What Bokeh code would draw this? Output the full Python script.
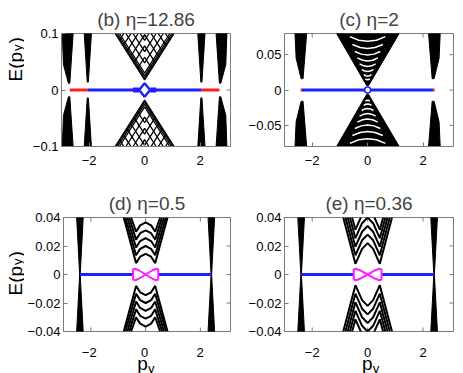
import math
from bokeh.plotting import figure
from bokeh.layouts import column, row
from bokeh.models import FixedTicker, Range1d
from bokeh.embed import file_html
from bokeh.resources import INLINE
from bokeh.core.properties import value

FONT = "Liberation Sans"
AXC = "#7a7a7a"
BLUE = "#1f1fff"
RED = "#ff1f1f"
MAG = "#ff1fff"

X_LIM = (-3.0, 3.1)
X_TICKS = [-2, 0, 2]
X_TICK_LABELS = ["\u22122", "0", "2"]

# ---------------- panel (b) ----------------
B_TITLE = "(b) \u03b7=12.86"
B_YLIM = (-0.1, 0.1)
B_YTICKS = [-0.1, 0, 0.1]
B_YTICK_LABELS = ["\u22120.1", "0", "0.1"]
B_POCKET_X = [[-2.97, -2.58, -2.70, -2.75, -2.93],
              [-2.18, -1.92, -2.03, -2.07],
              [1.92, 2.18, 2.07, 2.03],
              [2.58, 2.97, 2.93, 2.75, 2.70]]
B_POCKET_Y = [[0.1, 0.1, 0.012, 0.012, 0.045],
              [0.1, 0.1, 0.014, 0.014],
              [0.1, 0.1, 0.014, 0.014],
              [0.1, 0.1, 0.045, 0.012, 0.012]]
B_V_APEX = [0.018, 0.021, 0.025, 0.030, 0.048, 0.068, 0.088]
B_V_END = [1.065, 1.026, 0.974, 0.909, 0.675, 0.416, 0.156]
B_L_APEX = [0.058, 0.078, 0.098, 0.118, 0.138, 0.158]
B_L_END_X = [0.26, 0.39, 0.52, 0.65, 0.78, 0.91]
B_L_END_Y = [0.038, 0.048, 0.058, 0.068, 0.078, 0.088]
B_RED_X = [[-2.7, -2.05], [2.05, 2.7]]
B_BLUE_X = [[-2.05, -0.2], [0.2, 2.05]]
B_BLUE_THICK_X = [[-0.42, -0.2], [0.2, 0.42]]
B_DIAMOND_X = [-0.2, 0, 0.2, 0, -0.2]
B_DIAMOND_Y = [0, 0.012, 0, -0.012, 0]

# ---------------- panel (c) ----------------
C_TITLE = "(c) \u03b7=2"
C_YLIM = (-0.08, 0.08)
C_YTICKS = [-0.05, 0, 0.05]
C_YTICK_LABELS = ["\u22120.05", "0", "0.05"]
C_POCKET_X = [[-2.62, -2.2, -2.33, -2.40, -2.58],
              [2.2, 2.62, 2.58, 2.40, 2.33]]
C_POCKET_Y = [[0.08, 0.08, 0.016, 0.016, 0.045],
              [0.08, 0.08, 0.045, 0.016, 0.016]]
C_CONE_X = [-1.12, -0.03, 0.03, 1.14]
C_CONE_Y = [0.08, 0.006, 0.006, 0.08]
C_GAP_X = [[-0.08, -0.04, 0, 0.04, 0.08],
           [-0.14, -0.07, 0, 0.07, 0.14],
           [-0.21, -0.10, 0, 0.10, 0.21],
           [-0.29, -0.14, 0, 0.14, 0.29],
           [-0.37, -0.18, 0, 0.18, 0.37],
           [-0.46, -0.23, 0, 0.23, 0.46],
           [-0.55, -0.27, 0, 0.27, 0.55],
           [-0.64, -0.32, 0, 0.32, 0.64]]
C_GAP_Y = [[0.0158, 0.0148, 0.0145, 0.0148, 0.0158],
           [0.0218, 0.0202, 0.0198, 0.0202, 0.0218],
           [0.0290, 0.0268, 0.0262, 0.0268, 0.0290],
           [0.0370, 0.0342, 0.0334, 0.0342, 0.0370],
           [0.0455, 0.0422, 0.0412, 0.0422, 0.0455],
           [0.0545, 0.0508, 0.0496, 0.0508, 0.0545],
           [0.0645, 0.0602, 0.0588, 0.0602, 0.0645],
           [0.0755, 0.0705, 0.0690, 0.0705, 0.0755]]
C_BLUE_X = [-2.37, 2.37]
C_RED_X = [[-2.42, -2.37], [2.37, 2.42]]

# ---------------- panel (d) ----------------
D_TITLE = "(d) \u03b7=0.5"
D_YLIM = (-0.04, 0.04)
D_YTICKS = [-0.04, -0.02, 0, 0.02, 0.04]
D_YTICK_LABELS = ["\u22120.04", "\u22120.02", "0", "0.02", "0.04"]
D_POCKET_X = [[-2.52, -2.28, -2.39, -2.41], [2.28, 2.52, 2.41, 2.39]]
D_POCKET_Y = [[0.04, 0.04, 0.0, 0.0], [0.04, 0.04, 0.0, 0.0]]
D_W_X = [[-0.80, -0.35, -0.2, 0, 0.2, 0.35, 0.80],
         [-0.74, -0.35, -0.2, 0, 0.2, 0.35, 0.74],
         [-0.67, -0.35, -0.2, 0, 0.2, 0.35, 0.67],
         [-0.60, -0.35, -0.2, 0, 0.2, 0.35, 0.60],
         [-0.53, -0.35, -0.2, 0, 0.2, 0.35, 0.53]]
D_W_Y = [[0.04, 0.008, 0.0125, 0.0145, 0.0125, 0.008, 0.04],
         [0.04, 0.0135, 0.018, 0.020, 0.018, 0.0135, 0.04],
         [0.04, 0.019, 0.0235, 0.0255, 0.0235, 0.019, 0.04],
         [0.04, 0.0245, 0.029, 0.031, 0.029, 0.0245, 0.04],
         [0.04, 0.030, 0.0345, 0.0365, 0.0345, 0.030, 0.04]]
D_BLUE_X = [[-2.4, -0.46], [0.46, 2.4]]
D_MAG_X = [-0.46, -0.38, -0.25, 0, 0.25, 0.38, 0.46]
D_MAG_Y = [0.0035, 0.004, 0.003, 0, -0.003, -0.004, -0.0035]

# ---------------- panel (e) ----------------
E_TITLE = "(e) \u03b7=0.36"
E_YLIM = (-0.04, 0.04)
E_YTICKS = D_YTICKS
E_YTICK_LABELS = D_YTICK_LABELS
E_POCKET_X = [[-2.52, -2.28, -2.39, -2.41], [2.28, 2.52, 2.41, 2.39]]
E_POCKET_Y = [[0.04, 0.04, 0.0, 0.0], [0.04, 0.04, 0.0, 0.0]]
E_W_X = [[-0.88, -0.44, -0.2, 0, 0.2, 0.44, 0.88],
         [-0.80, -0.44, -0.2, 0, 0.2, 0.44, 0.80],
         [-0.72, -0.44, -0.2, 0, 0.2, 0.44, 0.72],
         [-0.64, -0.44, -0.2, 0, 0.2, 0.44, 0.64],
         [-0.56, -0.44, -0.2, 0, 0.2, 0.44, 0.56]]
E_W_Y = [[0.04, 0.0075, 0.018, 0.022, 0.018, 0.0075, 0.04],
         [0.04, 0.0135, 0.024, 0.028, 0.024, 0.0135, 0.04],
         [0.04, 0.0195, 0.030, 0.034, 0.030, 0.0195, 0.04],
         [0.04, 0.0255, 0.036, 0.040, 0.036, 0.0255, 0.04],
         [0.04, 0.0315, 0.042, 0.046, 0.042, 0.0315, 0.04]]
E_BLUE_X = [[-2.4, -0.5], [0.5, 2.4]]
E_MAG_X = [-0.5, -0.42, -0.28, 0, 0.28, 0.42, 0.5]
E_MAG_Y = [0.0035, 0.004, 0.003, 0, -0.003, -0.004, -0.0035]

# axis-label texts
YLAB_MAIN, YLAB_SUB, YLAB_TAIL = "E(p", "y", ")"
XLAB_MAIN, XLAB_SUB = "p", "y"

# layout (pixels)
LEFT_W, COL1_W, COL2_W = 24, 216, 223
B1, B2 = 37, 44            # left borders of the two plot columns
TOP = 33                   # title band
FRAME_W = 169
ROW2_BOTTOM = 9            # room for the lowest y tick label of the lower panels
ROW1_H, ROW2_H, ROW3_H = 184, 156, 33
FRAME1_H, FRAME2_H = 113, 114


def neg(ys):
    return [[-v for v in y] for y in ys]


def style_axis(ax, ticks, labels, standoff):
    ax.ticker = FixedTicker(ticks=ticks)
    ax.major_label_overrides = dict(zip(ticks, labels))
    ax.axis_line_color = AXC
    ax.major_tick_line_color = AXC
    ax.major_tick_in = 4
    ax.major_tick_out = 0
    ax.minor_tick_line_color = None
    ax.major_label_text_font = FONT
    ax.major_label_text_color = "black"
    ax.major_label_text_font_size = "13px"
    ax.major_label_standoff = standoff


def make_fig(title, ylim, yticks, ylabels, w, h, bl, bb, with_xaxis):
    p = figure(width=w, height=h, x_range=Range1d(*X_LIM), y_range=Range1d(*ylim),
               output_backend="svg", toolbar_location=None, tools="",
               x_axis_location="below" if with_xaxis else None,
               min_border_left=bl, min_border_right=w - bl - FRAME_W,
               min_border_top=TOP, min_border_bottom=bb)
    p.title.text = title
    p.title.text_font = FONT
    p.title.text_font_size = "19px"
    p.title.text_font_style = "normal"
    p.title.align = "center"
    p.title.standoff = 8
    p.grid.visible = False
    p.outline_line_color = AXC
    p.background_fill_color = "white"
    p.border_fill_color = "white"
    if with_xaxis:
        style_axis(p.xaxis[0], X_TICKS, X_TICK_LABELS, 9)
    else:
        p.ray(x=X_TICKS, y=[ylim[0]] * len(X_TICKS), length=4, length_units="screen",
              angle=math.pi / 2, line_color=AXC, line_width=1)
    style_axis(p.yaxis[0], yticks, ylabels, 3)
    p.ray(x=X_TICKS, y=[ylim[1]] * len(X_TICKS), length=4, length_units="screen",
          angle=-math.pi / 2, line_color=AXC, line_width=1)
    p.ray(x=[X_LIM[1]] * len(yticks), y=yticks, length=4, length_units="screen",
          angle=math.pi, line_color=AXC, line_width=1)
    return p


def pockets(p, xs, ys):
    p.patches(xs, ys, color="black", line_width=1)
    p.patches(xs, neg(ys), color="black", line_width=1)


def strip(w, h, xr, yr, bl=0, br=0, bt=0, bb=0):
    s = figure(width=w, height=h, x_range=Range1d(*xr), y_range=Range1d(*yr),
               output_backend="svg", toolbar_location=None, tools="", title=None,
               x_axis_location=None, y_axis_location=None,
               min_border=0, min_border_left=bl, min_border_right=br,
               min_border_top=bt, min_border_bottom=bb)
    s.grid.visible = False
    s.outline_line_color = None
    s.background_fill_color = "white"
    s.border_fill_color = "white"
    return s


def ylabel(s, y0, per_px):
    # y0: data position where the text starts; per_px: data units per screen pixel
    s.text(x=[14.5], y=[y0], text=[YLAB_MAIN], angle=math.pi / 2, text_font=value(FONT),
           text_font_size="19px", text_baseline="alphabetic", text_align="left")
    s.text(x=[17], y=[y0 + 30.5 * per_px], text=[YLAB_SUB], angle=math.pi / 2, text_font=value(FONT),
           text_font_size="13px", text_baseline="alphabetic", text_align="left")
    s.text(x=[14.5], y=[y0 + 38 * per_px], text=[YLAB_TAIL], angle=math.pi / 2, text_font=value(FONT),
           text_font_size="19px", text_baseline="alphabetic", text_align="left")


# ---- figure (b)
pb = make_fig(B_TITLE, B_YLIM, B_YTICKS, B_YTICK_LABELS, COL1_W, ROW1_H, B1, ROW1_H - TOP - FRAME1_H, True)
pockets(pb, B_POCKET_X, B_POCKET_Y)
bvx = [[-e, 0, e] for e in B_V_END]
bvy = [[0.1, a, 0.1] for a in B_V_APEX]
blx = [[-ex, 0, ex] for ex in B_L_END_X]
bly = [[ey, a, ey] for a, ey in zip(B_L_APEX, B_L_END_Y)]
for xs, ys in ((bvx, bvy), (blx, bly)):
    pb.multi_line(xs, ys, line_color="black", line_width=1.3)
    pb.multi_line(xs, neg(ys), line_color="black", line_width=1.3)
pb.multi_line(B_RED_X, [[0, 0], [0, 0]], line_color=RED, line_width=3)
pb.multi_line(B_BLUE_X, [[0, 0], [0, 0]], line_color=BLUE, line_width=3)
pb.multi_line(B_BLUE_THICK_X, [[0, 0], [0, 0]], line_color=BLUE, line_width=5)
pb.line(B_DIAMOND_X, B_DIAMOND_Y, line_color=BLUE, line_width=2.5)

# ---- figure (c)
pc = make_fig(C_TITLE, C_YLIM, C_YTICKS, C_YTICK_LABELS, COL2_W, ROW1_H, B2, ROW1_H - TOP - FRAME1_H, True)
pockets(pc, C_POCKET_X, C_POCKET_Y)
pc.patch(C_CONE_X, C_CONE_Y, color="black")
pc.patch(C_CONE_X, [-v for v in C_CONE_Y], color="black")
pc.multi_line(C_GAP_X, C_GAP_Y, line_color="white", line_width=1.5)
pc.multi_line(C_GAP_X, neg(C_GAP_Y), line_color="white", line_width=1.5)
pc.line(C_BLUE_X, [0, 0], line_color=BLUE, line_width=3)
pc.multi_line(C_RED_X, [[0, 0], [0, 0]], line_color=RED, line_width=3)
pc.scatter([0], [0], marker="circle", size=6, fill_color="white", line_color=BLUE, line_width=1.5)

# ---- figure (d)
pd_ = make_fig(D_TITLE, D_YLIM, D_YTICKS, D_YTICK_LABELS, COL1_W, ROW2_H, B1, ROW2_BOTTOM, False)
pockets(pd_, D_POCKET_X, D_POCKET_Y)
pd_.multi_line(D_W_X, D_W_Y, line_color="black", line_width=2)
pd_.multi_line(D_W_X, neg(D_W_Y), line_color="black", line_width=2)
pd_.multi_line(D_BLUE_X, [[0, 0], [0, 0]], line_color=BLUE, line_width=3)
pd_.line(D_MAG_X, D_MAG_Y, line_color=MAG, line_width=2)
pd_.line(D_MAG_X, [-v for v in D_MAG_Y], line_color=MAG, line_width=2)
pd_.multi_line([[D_MAG_X[0]] * 2, [D_MAG_X[-1]] * 2], [[-0.004, 0.004]] * 2, line_color=MAG, line_width=2)

# ---- figure (e)
pe = make_fig(E_TITLE, E_YLIM, E_YTICKS, E_YTICK_LABELS, COL2_W, ROW2_H, B2, ROW2_BOTTOM, False)
pockets(pe, E_POCKET_X, E_POCKET_Y)
pe.multi_line(E_W_X, E_W_Y, line_color="black", line_width=2)
pe.multi_line(E_W_X, neg(E_W_Y), line_color="black", line_width=2)
pe.multi_line(E_BLUE_X, [[0, 0], [0, 0]], line_color=BLUE, line_width=3)
pe.line(E_MAG_X, E_MAG_Y, line_color=MAG, line_width=2)
pe.line(E_MAG_X, [-v for v in E_MAG_Y], line_color=MAG, line_width=2)
pe.multi_line([[E_MAG_X[0]] * 2, [E_MAG_X[-1]] * 2], [[-0.004, 0.004]] * 2, line_color=MAG, line_width=2)

# ---- y-label strips (same vertical frame as the panels beside them)
lb = strip(LEFT_W, ROW1_H, (0, LEFT_W), B_YLIM, bt=TOP, bb=ROW1_H - TOP - FRAME1_H)
b_pp = (B_YLIM[1] - B_YLIM[0]) / FRAME1_H
ylabel(lb, B_YLIM[1] - 48 * b_pp, b_pp)
ld = strip(LEFT_W, ROW2_H, (0, LEFT_W), D_YLIM, bt=TOP, bb=ROW2_BOTTOM)
d_pp = (D_YLIM[1] - D_YLIM[0]) / FRAME2_H
ylabel(ld, D_YLIM[1] - 78 * d_pp, d_pp)

# ---- bottom strips: x tick labels and x label of the lower panels
x_pp = (X_LIM[1] - X_LIM[0]) / FRAME_W
sp = strip(LEFT_W, ROW3_H, (0, LEFT_W), (0, ROW3_H))


def bottom(w, bl):
    s = strip(w, ROW3_H, X_LIM, (0, ROW3_H), bl=bl, br=w - bl - FRAME_W)
    s.text(x=X_TICKS, y=[21] * len(X_TICKS), text=X_TICK_LABELS, text_font=value(FONT),
           text_font_size="13px", text_baseline="alphabetic", text_align="center")
    return s


bd = bottom(COL1_W, B1)
bd.text(x=[-0.27], y=[10], text=[XLAB_MAIN], text_font=value(FONT),
        text_font_size="19px", text_baseline="alphabetic", text_align="left")
bd.text(x=[-0.27 + 10.8 * x_pp], y=[5], text=[XLAB_SUB], text_font=value(FONT),
        text_font_size="13px", text_baseline="alphabetic", text_align="left")
be = bottom(COL2_W, B2)
be.text(x=[-0.2], y=[10], text=[XLAB_MAIN], text_font=value(FONT),
        text_font_size="19px", text_baseline="alphabetic", text_align="left")
be.text(x=[-0.2 + 10.8 * x_pp], y=[5], text=[XLAB_SUB], text_font=value(FONT),
        text_font_size="13px", text_baseline="alphabetic", text_align="left")

layout = column(row(lb, pb, pc), row(ld, pd_, pe), row(sp, bd, be))
open("out.html", "w").write(file_html(layout, INLINE))
